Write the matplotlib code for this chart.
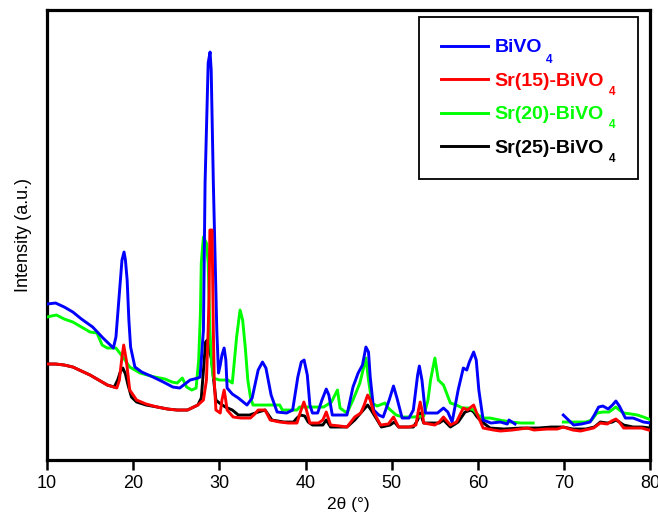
import numpy as np
import matplotlib
matplotlib.use('Agg')
import matplotlib.pyplot as plt
from matplotlib.offsetbox import DrawingArea

plt.rcParams['font.family'] = ['Liberation Sans', 'DejaVu Sans']

#%% XRD patterns (2theta, intensity a.u.)

bivo4_a = [(10.0,156),(11.0,157),(12.0,153),(13.0,148),(14.0,141),(15.3,133),(16.5,122),
           (17.7,112),(18.0,123),(18.4,167),(18.7,200),(18.94,208),(19.1,200),(19.3,180),
           (19.5,140),(19.7,113),(20.2,93),(21.0,88),(22.3,83),(23.5,78),(24.6,73),(25.4,72),
           (26.0,76),(26.6,80),(27.5,82),(27.76,83),(28.15,130),(28.34,277),(28.7,397),
           (28.92,408),(29.05,390),(29.3,277),(29.7,130),(29.9,87),(30.1,95),(30.3,105),
           (30.55,112),(30.75,100),(30.9,72),(31.5,66),(32.2,62),(33.2,55),(33.8,62),
           (34.5,90),(35.0,98),(35.4,92),(36.0,65),(36.7,48),(37.8,47),(38.5,50),(39.1,83),
           (39.5,98),(39.83,100),(40.2,85),(40.5,55),(40.8,47),(41.4,47),(41.9,60),(42.4,71),
           (42.7,65),(43.1,45),(44.0,45),(44.8,45),(45.5,73),(46.1,87),(46.6,95),(47.0,113),
           (47.3,108),(47.5,83),(47.9,50),(48.5,45),(49.0,43),(49.7,60),(50.2,74),(50.6,62),
           (51.2,42),(52.0,42),(52.5,50),(53.0,85),(53.2,94),(53.5,80),(53.9,47),(55.3,47),
           (56.0,52),(56.5,48),(57.0,38),(57.7,70),(58.3,92),(58.7,90),(59.0,98),(59.5,108),
           (59.8,100),(60.1,70),(60.6,40),(61.5,37),(62.6,38),(63.4,36),(63.6,40),(64.3,36)]
bivo4_b = [(69.9,45),(70.5,40),(71.1,35),(72.0,36),(73.0,38),(73.5,45),(74.0,53),(74.5,54),
           (75.1,51),(75.6,55),(76.0,59),(76.4,54),(77.1,42),(78.0,42),(79.2,38),(80.0,37)]

sr20_a = [(10.0,143),(10.5,144),(11.1,145),(12.0,141),(13.0,138),(14.0,133),(15.0,128),
          (15.8,127),(16.4,115),(17.0,112),(18.0,112),(18.8,103),(19.6,93),(20.8,87),
          (22.5,83),(23.7,81),(24.5,78),(25.1,77),(25.7,82),(26.2,73),(26.8,70),(27.3,72),
          (27.6,100),(27.8,147),(27.9,197),(28.15,223),(28.5,217),(28.7,197),(28.9,130),
          (29.1,97),(29.3,82),(30.0,80),(31.0,80),(31.5,77),(32.0,123),(32.4,150),(32.7,140),
          (33.0,113),(33.3,80),(33.6,63),(33.9,55),(35.5,55),(37.0,55),(37.3,50),(39.0,50),
          (39.3,53),(40.5,53),(42.1,53),(43.0,58),(43.7,70),(44.0,52),(44.8,47),(45.5,60),
          (46.3,77),(47.0,102),(47.3,80),(47.7,57),(48.3,54),(49.2,57),(49.6,52),(50.5,45),
          (51.3,43),(52.5,43),(53.7,44),(54.2,60),(54.5,80),(55.0,102),(55.4,80),(56.0,75),
          (56.8,57),(57.5,55),(58.2,52),(58.9,52),(59.5,50),(60.0,45),(60.6,42),(61.4,42),
          (62.5,40),(63.8,38),(65.0,37),(66.4,37)]
sr20_b = [(69.9,38),(71.0,38),(72.5,38),(73.2,40),(73.8,47),(74.5,48),(75.2,48),(76.0,53),
          (76.4,50),(76.9,47),(77.8,46),(78.5,45),(79.2,43),(79.8,41),(80.0,40)]

sr15 = [(10.0,96),(11.0,96),(12.0,95),(13.0,93),(14.0,89),(15.0,85),(16.0,80),(17.0,75),
        (18.1,72),(18.4,80),(18.7,103),(18.9,115),(19.2,100),(19.6,70),(20.4,60),(21.5,56),
        (22.8,53),(24.0,51),(25.1,50),(26.3,50),(27.5,55),(28.15,60),(28.5,80),(28.7,130),
        (28.8,163),(28.9,230),(29.15,230),(29.2,197),(29.3,130),(29.4,80),(29.6,50),(30.1,47),
        (30.3,60),(30.55,70),(30.7,62),(30.9,50),(31.6,43),(32.5,42),(33.6,42),(34.1,46),
        (34.5,50),(35.3,50),(35.9,40),(37.0,38),(38.0,37),(39.0,37),(39.4,48),(39.8,58),
        (40.1,50),(40.5,37),(41.5,37),(42.0,40),(42.4,48),(42.9,35),(44.0,34),(44.8,33),
        (45.7,43),(46.4,47),(46.8,55),(47.2,65),(47.5,60),(47.9,48),(48.7,35),(49.6,36),
        (50.2,43),(50.8,33),(52.0,33),(52.8,35),(53.1,50),(53.3,58),(53.5,50),(53.7,37),
        (55.0,35),(55.5,38),(56.0,43),(56.8,35),(57.5,38),(58.3,52),(58.8,50),(59.2,53),
        (59.5,55),(59.8,48),(60.2,40),(60.6,32),(61.8,30),(62.6,29),(64.0,30),(65.7,32),
        (66.5,30),(68.0,31),(69.2,31),(69.9,33),(71.0,30),(71.9,29),(73.4,32),(74.2,37),
        (75.0,36),(75.5,39),(76.0,41),(76.4,38),(76.9,32),(78.0,32),(79.0,32),(79.8,30),
        (80.0,30)]

sr25 = [(10.0,96),(11.0,96),(12.0,95),(13.0,93),(14.0,89),(15.0,85),(16.0,80),(17.0,75),
        (17.8,73),(18.2,80),(18.5,88),(18.8,92),(19.1,86),(19.4,75),(19.8,63),(20.4,58),
        (21.5,55),(22.8,53),(24.0,51),(25.1,50),(26.3,50),(27.5,55),(27.9,62),(28.2,95),
        (28.4,118),(28.6,120),(28.8,112),(29.1,100),(29.4,75),(29.6,60),(30.0,57),(30.7,53),
        (31.5,50),(32.2,45),(33.5,45),(34.5,48),(35.3,50),(36.1,40),(37.5,38),(38.6,38),
        (39.0,42),(39.4,45),(39.9,44),(40.3,38),(40.8,35),(42.0,35),(42.4,40),(42.9,33),
        (44.8,33),(45.7,40),(46.5,48),(47.2,55),(47.6,50),(48.1,43),(48.8,33),(49.8,35),
        (50.3,38),(50.8,33),(52.5,33),(53.0,40),(53.3,47),(53.7,37),(55.5,37),(56.0,40),
        (56.8,33),(57.7,38),(58.5,48),(59.2,50),(59.5,48),(59.9,43),(60.5,38),(61.4,32),
        (63.0,31),(65.0,32),(67.0,32),(68.5,33),(69.2,33),(69.9,33),(71.0,31),(72.5,31),
        (73.5,33),(74.2,38),(75.0,37),(75.6,38),(76.0,40),(76.4,38),(76.9,35),(78.0,33),
        (79.0,33),(80.0,32)]

xticks = [10, 20, 30, 40, 50, 60, 70, 80]

# legend names, subscript drawn separately (it sits below the baseline)
names = ['BiVO', 'Sr(15)-BiVO', 'Sr(20)-BiVO', 'Sr(25)-BiVO']
sub = '4'
sub_gap = [3.5, 4.5, 4.5, 4.5]  # px between name and subscript
sub_drop = [1.5, 0, 0, 0]       # px below baseline for subscript top

#%% plotting

fig = plt.figure(figsize=(6.58, 5.14), dpi=100)
ax = fig.add_axes([0.0714, 0.105, 0.917, 0.8755])

lw = 2.1

def xy(seg):
    a = np.array(seg)
    return a[:, 0], a[:, 1]

ax.plot(*xy(sr25), color='black', lw=lw, zorder=2)
ax.plot(*xy(sr20_a), color='#00ff00', lw=lw, zorder=3)
ax.plot(*xy(sr20_b), color='#00ff00', lw=lw, zorder=3)
hb, = ax.plot(*xy(bivo4_a), color='#0000ff', lw=lw, zorder=4)
ax.plot(*xy(bivo4_b), color='#0000ff', lw=lw, zorder=4)
hr, = ax.plot(*xy(sr15), color='#ff0000', lw=lw, zorder=5)

hg, = ax.plot([], [], color='#00ff00', lw=lw)
hk, = ax.plot([], [], color='black', lw=lw)

ax.set_xlim(10, 80)
ax.set_ylim(0, 450)
ax.set_xticks(xticks)
ax.set_yticks([])
ax.tick_params(axis='x', direction='out', length=7, width=1.8, labelsize=13, pad=4)
for s in ax.spines.values():
    s.set_linewidth(2.3)

ax.set_xlabel('2θ (°)', fontsize=12.5, labelpad=3.5)
ax.set_ylabel('Intensity (a.u.)', fontsize=13, labelpad=11)

leg = ax.legend([hb, hr, hg, hk], names, loc='upper right',
                bbox_to_anchor=(0.9696, 0.967), bbox_transform=fig.transFigure,
                borderaxespad=0, fancybox=False, edgecolor='black', framealpha=1,
                prop={'weight': 'bold', 'size': 14}, labelcolor='linecolor',
                handlelength=2.4, handletextpad=0.36, labelspacing=0.82,
                borderpad=1.12)
leg.get_frame().set_linewidth(1.3)

# small spacer after each label so the box also holds the subscript
cols = leg.get_children()[0].get_children()[1].get_children()
for col in cols:
    for item in col.get_children():
        item.get_children().append(DrawingArea(3.5, 1))

fig.canvas.draw()
rend = fig.canvas.get_renderer()
inv = fig.transFigure.inverted()
for i, t in enumerate(leg.get_texts()):
    x0, yb = t.get_transform().transform(t.get_position())
    w, h, d = rend.get_text_width_height_descent(names[i], t.get_fontproperties(), ismath=False)
    fx, fy = inv.transform((x0 + w + sub_gap[i], yb - sub_drop[i]))
    fig.text(fx, fy, sub, fontsize=8.5, fontweight='bold', color=t.get_color(),
             va='top', ha='left', zorder=10)

fig.savefig('out.png', dpi=100)
